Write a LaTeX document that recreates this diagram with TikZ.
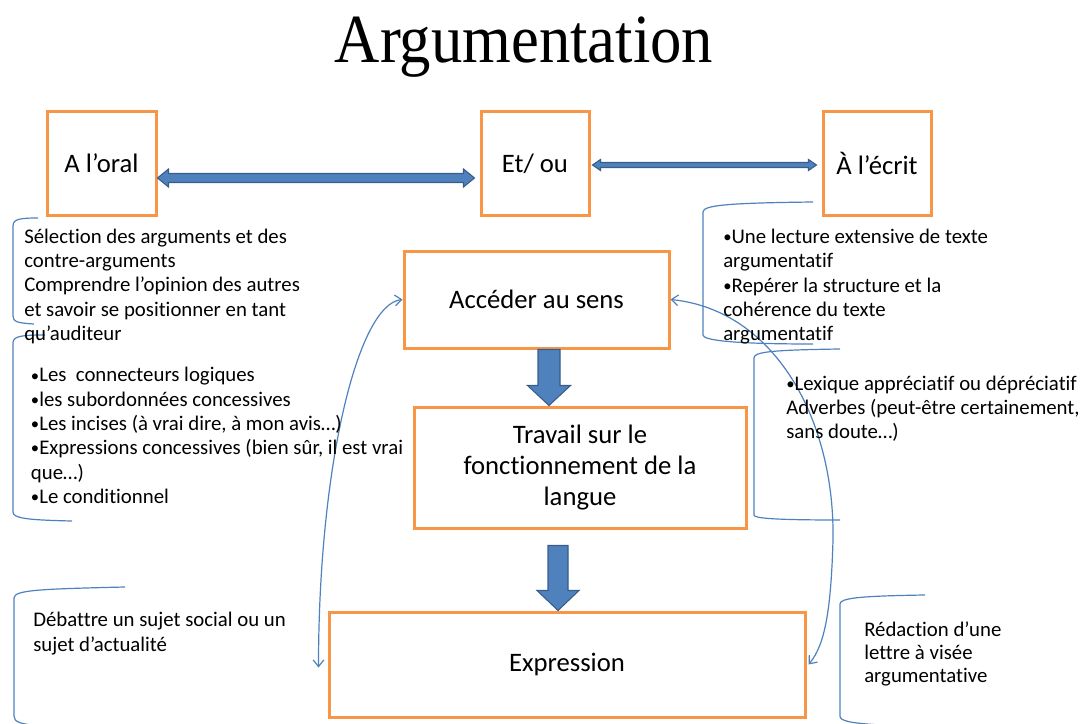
\documentclass[tikz,border=0pt]{standalone}
\usepackage{fontspec}
\usepackage{graphicx}
\setmainfont{Carlito}[Ligatures=NoCommon]
\newfontfamily\titlefont{Liberation Serif}
\usetikzlibrary{calc,arrows.meta}

\definecolor{boxorange}{HTML}{F79646}
\definecolor{accentblue}{HTML}{4F81BD}
\definecolor{accentdark}{HTML}{385D8A}

% strut that fixes the height of a note's first line
\newcommand\firstline{\rule{0pt}{1em}}
% small list bullet
\newcommand\blt{{\fontsize{12.5}{0}\selectfont\raisebox{0.6pt}{•}}}

% horizontal block arrow with a head at both ends
% #1 left tip, #2 right tip, #3 half shaft, #4 half head, #5 head length
\newcommand\bigdarrow[5]{%
  \filldraw[blockarrow] (#1) -- ($(#1)+(#5,-#4)$) -- ($(#1)+(#5,-#3)$)
    -- ($(#2)+(-#5,-#3)$) -- ($(#2)+(-#5,-#4)$) -- (#2)
    -- ($(#2)+(-#5,#4)$) -- ($(#2)+(-#5,#3)$)
    -- ($(#1)+(#5,#3)$) -- ($(#1)+(#5,#4)$) -- cycle;}

% vertical block arrow pointing down
% #1 top middle, #2 tip, #3 half shaft, #4 half head, #5 head length
\newcommand\downblock[5]{%
  \filldraw[blockarrow] ($(#1)+(-#3,0)$) -- ($(#2)+(-#3,-#5)$)
    -- ($(#2)+(-#4,-#5)$) -- (#2) -- ($(#2)+(#4,-#5)$)
    -- ($(#2)+(#3,-#5)$) -- ($(#1)+(#3,0)$) -- cycle;}

\begin{document}
\begin{tikzpicture}[x=0.75pt,y=-0.75pt,
  box/.style={draw=boxorange,line width=2.25pt,inner sep=0pt,align=center,
    font=\fontsize{20}{23.6}\selectfont},
  note/.style={anchor=north west,inner sep=0pt,align=left,
    font=\fontsize{15.6}{18.2}\selectfont},
  blockarrow/.style={fill=accentblue,draw=accentdark,line width=0.8pt,line join=miter},
  bracket/.style={draw=accentblue,line width=0.9pt},
  link/.style={draw=accentblue,line width=0.9pt,
    {Straight Barb[length=5pt,width=8pt]}-{Straight Barb[length=5pt,width=8pt]}}]

\useasboundingbox (0,0) rectangle (1083,724);

% title
\node (title) [anchor=base,inner sep=0pt] at (524,63)
  {\titlefont\fontsize{47}{50}\selectfont\scalebox{1}[1.1]{Argumentation}};

% main boxes
\node (oral)  [box,minimum width=81.75pt,minimum height=77.25pt] at (101.5,163.5) {A l’oral};
\node (etou)  [box,minimum width=81pt,minimum height=77.25pt]    at (535,163.5)   {Et/ ou};
\node (ecrit) [box,minimum width=81pt,minimum height=77.25pt]    at (877,163.5)   {À l’écrit};
\node (acc)   [box,minimum width=198.75pt,minimum height=72.75pt] at (536.5,299.5) {Accéder au sens};
\node (trav)  [box,minimum width=249pt,minimum height=90.75pt]   at (580,467.5)
  {Travail sur le\\fonctionnement de la\\langue};
\node (expr)  [box,minimum width=357pt,minimum height=78.75pt]   at (567,664.5) {Expression};

% double arrows between the top boxes
\coordinate (la) at ($(oral.east)+(0,14.5)$);
\coordinate (lb) at ($(etou.west)+(-5,14.5)$);
\coordinate (ra) at ($(etou.east)+(2,1.5)$);
\coordinate (rb) at ($(ecrit.west)+(-5,1.5)$);
\bigdarrow{la}{lb}{4.5}{9}{11}
\bigdarrow{ra}{rb}{2.5}{5.5}{8}

% downward block arrows
\coordinate (d1s) at (549,0 |- acc.south);
\coordinate (d1e) at (549,0 |- trav.north);
\coordinate (d2s) at ($(558,0 |- trav.south)+(0,16)$);
\coordinate (d2e) at (558,0 |- expr.north);
\downblock{d1s}{d1e}{11}{21.5}{20}
\downblock{d2s}{d2e}{10}{21}{20}

% curved links
\coordinate (lend) at ($(expr.west)+(-9,3)$);
\coordinate (rend) at ($(expr.east)+(2,0)$);
\draw[link] (acc.west) .. controls +(-45,5) and +(0,-200) .. (lend);
\draw[link] (acc.east) .. controls (775,310) and (835,420) .. (833,540)
  .. controls (831,610) and (825,645) .. (rend);

% brackets
\draw[bracket] (38,218) .. controls (20,218) and (13,219) .. (13,226) -- (13,316)
  .. controls (13,322) and (18,323) .. (34,324);
\draw[bracket] (45,335) .. controls (22,335) and (13,336) .. (13,343) -- (13,512)
  .. controls (13,518) and (25,520) .. (72,521);
\draw[bracket] (125,587) .. controls (40,589) and (14,590) .. (14,598) -- (14,716)
  .. controls (14,722) and (20,724) .. (40,726);
\draw[bracket] (813,202) .. controls (730,203) and (703,205) .. (703,212) -- (703,335)
  .. controls (703,340) and (730,344) .. (813,344);
\draw[bracket] (840,349) .. controls (770,350) and (754,352) .. (754,358) -- (754,515)
  .. controls (754,518) and (770,520) .. (840,520);
\draw[bracket] (925,595) .. controls (860,596) and (840,598) .. (840,604) -- (840,716)
  .. controls (840,721) and (850,723) .. (880,725);

% notes
\node (oralnote) [note] at (24,222.2) {\firstline Sélection des arguments et des\\
  contre-arguments\\Comprendre l’opinion des autres\\
  et savoir se positionner en tant\\qu’auditeur};
\node (langnote) [note] at (30.7,360.9) {\firstline \blt Les\ \ connecteurs logiques\\
  \blt les subordonnées concessives\\\blt Les incises (à vrai dire, à mon avis…)\\
  \blt Expressions concessives (bien sûr, il est vrai\\que…)\\\blt Le conditionnel};
\node (ecritnote) [note] at (723,222.5) {\firstline \blt Une lecture extensive de texte\\
  argumentatif\\\blt Repérer la structure et la\\cohérence du texte\\argumentatif};
\node (lexnote) [note] at (786,369.2) {\firstline \blt Lexique appréciatif ou dépréciatif\\
  Adverbes (peut-être certainement,\\sans doute…)};
\node (debatnote) [note] at (33,605.9) {\firstline Débattre un sujet social ou un\\
  sujet d’actualité};
\node (lettrenote) [note,font=\fontsize{15.6}{17}\selectfont] at (864,615.9)
  {\firstline Rédaction d’une\\lettre à visée\\argumentative};

\end{tikzpicture}
\end{document}
